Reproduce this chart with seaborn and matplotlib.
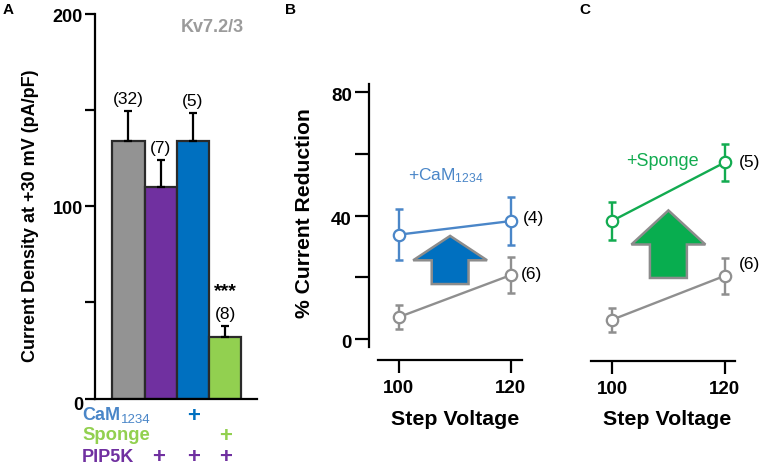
import matplotlib
matplotlib.use("Agg")
import matplotlib.pyplot as plt
import matplotlib.patches as mpatches
import matplotlib.transforms as mtrans
import seaborn as sns

# ---- data ----
conditions = ["Control", "PIP5K", "PIP5K+CaM", "PIP5K+Sponge"]
density = [134, 110, 133.7, 32]
density_err = [15.5, 14, 14.8, 5.7]
density_n = ["(32)", "(7)", "(5)", "(8)"]
bar_colors = ["#939393", "#7030a0", "#0070c0", "#92d050"]

voltage = [100, 120]
ctrl_b = [7.1, 20.7]
ctrl_b_err = [3.8, 5.8]
cam = [33.8, 38.2]
cam_err = [8.3, 7.7]
ctrl_c = [6.5, 20.7]
ctrl_c_err = [3.9, 5.8]
sponge = [38.4, 57.3]
sponge_err = [6.1, 6.0]

W, H = 763, 468
sns.set_theme(style="ticks")
plt.rcParams["font.family"] = ["Liberation Sans", "DejaVu Sans"]
plt.rcParams["mathtext.default"] = "regular"
plt.rcParams["axes.facecolor"] = "white"
fig = plt.figure(figsize=(W / 100, H / 100), dpi=100, facecolor="white")

def make_axes(l, r, t, b):
    return fig.add_axes([l / W, 1 - b / H, (r - l) / W, (b - t) / H], facecolor="none")

def ptext(x, y, s, **kw):
    kw.setdefault("ha", "center")
    kw.setdefault("va", "center")
    kw.setdefault("color", "black")
    fig.text(x / W, 1 - y / H, s, **kw)

def shift_labels(labels, dy_px):
    for t, dy in zip(labels, dy_px):
        t.set_transform(t.get_transform() + mtrans.Affine2D().translate(0, -dy))

SPINE = 1.6

# ---- Panel A ----
axA = make_axes(95, 257, 14, 398.5)
sns.barplot(x=conditions, y=density, hue=conditions, palette=bar_colors, width=1.0,
            saturation=1, edgecolor="#2a2a2a", linewidth=1.6, legend=False, ax=axA)
axA.errorbar(range(4), density, yerr=[[0] * 4, density_err], fmt="none", ecolor="black",
             elinewidth=1.6, capsize=3, capthick=1.6)
axA.set_xlim(-1.04, 3.99)
axA.set_ylim(0, 200)
axA.set_yticks([0, 100, 200])
axA.set_yticks([50, 150], minor=True)
axA.set_xticks([])
axA.set_xlabel("")
axA.set_ylabel("Current Density at +30 mV (pA/pF)", fontsize=13, fontweight="bold", color="black", va="center")
axA.yaxis.set_label_coords(-0.40, 0.475)
axA.tick_params(axis="y", which="both", length=7.2, width=SPINE, color="black", pad=1.5,
                labelsize=13, labelcolor="black")
for t in axA.get_yticklabels():
    t.set_fontweight("bold")
shift_labels(axA.get_yticklabels(), [5.5, 1.5, 2])
sns.despine(ax=axA)
for s in ("left", "bottom"):
    axA.spines[s].set_linewidth(SPINE)
    axA.spines[s].set_color("black")

for i, n in enumerate(density_n):
    axA.annotate(n, (i, density[i] + density_err[i]), xytext=(0, 3), textcoords="offset points",
                 ha="center", va="bottom", fontsize=12.5, color="black")
axA.annotate("***", (3, density[3] + density_err[3]), xytext=(0, 19), textcoords="offset points",
             ha="center", va="bottom", fontsize=14, color="black", fontweight="bold")

ptext(8.5, 9.5, "A", fontsize=11, fontweight="bold")
ptext(212, 28, "Kv7.2/3", fontsize=13, fontweight="bold", color="#9b9b9b")
ptext(82, 415, "CaM", ha="left", fontsize=13, fontweight="bold", color="#4a86c8")
ptext(120.5, 420, "1234", ha="left", fontsize=9.5, color="#4a86c8")
ptext(82, 436, "Sponge", ha="left", fontsize=13.3, fontweight="bold", color="#92d050")
ptext(82, 458, "PIP5K", ha="left", fontsize=13, fontweight="bold", color="#7030a0")
ptext(194, 416, "+", fontsize=16, fontweight="bold", color="#0070c0")
ptext(226, 436, "+", fontsize=16, fontweight="bold", color="#92d050")
for px in (159, 194, 226):
    ptext(px, 457.4, "+", fontsize=16, fontweight="bold", color="#7030a0")

# ---- Panels B, C ----
def line_panel(ax, series, xleft, xright, xlabel_x, xlabel_y):
    for y, e, col in series:
        ax.errorbar(voltage, y, yerr=e, fmt="none", ecolor=col, elinewidth=1.7, capsize=2.7,
                    capthick=1.8, zorder=2)
        sns.lineplot(x=voltage, y=y, color=col, linewidth=1.7, marker="o", markersize=8.2,
                     markerfacecolor="white", markeredgecolor=col, markeredgewidth=1.6, ax=ax,
                     errorbar=None, zorder=3)
    ax.set_xlim(xleft, xright)
    ax.set_ylim(-6.8, 82.6)
    ax.set_xticks(voltage)
    ax.set_xticklabels([str(v) for v in voltage], fontweight="bold", fontsize=13.5, color="black")
    ax.tick_params(axis="x", length=9, width=SPINE, color="black", pad=5.5)
    ax.set_xlabel("Step Voltage", fontsize=15.4, fontweight="bold", color="black", va="center")
    ax.xaxis.set_label_coords(xlabel_x, xlabel_y)
    ax.spines["top"].set_visible(False)
    ax.spines["right"].set_visible(False)
    ax.spines["bottom"].set_linewidth(SPINE)
    ax.spines["bottom"].set_color("black")

ax_b = make_axes(368.5, 522, 84, 360)
line_panel(ax_b, [(ctrl_b, ctrl_b_err, "#8f8f8f"), (cam, cam_err, "#4a86c8")], 94.58, 122, 0.567, -0.214)
ax_b.spines["bottom"].set_bounds(96.27, 122)
ax_b.spines["left"].set_bounds(-2.6, 82.6)
ax_b.spines["left"].set_linewidth(SPINE)
ax_b.spines["left"].set_color("black")
ax_b.set_yticks([0, 40, 80])
ax_b.set_yticks([20, 60], minor=True)
ax_b.tick_params(axis="y", which="both", length=10, width=SPINE, color="black", pad=2,
                 labelsize=13.5, labelcolor="black")
for t in ax_b.get_yticklabels():
    t.set_fontweight("bold")
shift_labels(ax_b.get_yticklabels(), [2.5, 2.5, 2.5])
ax_b.set_ylabel("% Current Reduction", fontsize=15.2, fontweight="bold", color="black", va="center")
ax_b.yaxis.set_label_coords(-0.42, 0.533)
ax_b.add_patch(mpatches.FancyArrow(109.16, 17.8, 0, 15.6, width=6.58, head_width=13.2, head_length=7.9,
                                   length_includes_head=True, facecolor="#0070c0", edgecolor="#8c8c8c",
                                   linewidth=1.8, zorder=1))

ax_c = make_axes(590.5, 735, 84, 361)
line_panel(ax_c, [(ctrl_c, ctrl_c_err, "#8f8f8f"), (sponge, sponge_err, "#12ab50")], 96.2, 121.8, 0.533, -0.21)
ax_c.spines["left"].set_visible(False)
ax_c.set_yticks([])
ax_c.set_ylabel("")
ax_c.add_patch(mpatches.FancyArrow(110, 20, 0, 21.8, width=6.55, head_width=13.1, head_length=11,
                                   length_includes_head=True, facecolor="#08ad4f", edgecolor="#8c8c8c",
                                   linewidth=1.8, zorder=1))

ptext(291, 9.5, "B", fontsize=11, fontweight="bold")
ptext(585, 9.5, "C", fontsize=11, fontweight="bold")
ptext(445.5, 176, "+CaM$_{1234}$", fontsize=12.5, color="#4a86c8")
ptext(662.5, 161, "+Sponge", fontsize=13, color="#12ab50")
ptext(533.5, 219, "(4)", fontsize=12.5)
ptext(531.5, 274, "(6)", fontsize=12.5)
ptext(749.5, 162, "(5)", fontsize=12.5)
ptext(749.5, 265, "(6)", fontsize=12.5)

fig.savefig("out.png", dpi=100)
